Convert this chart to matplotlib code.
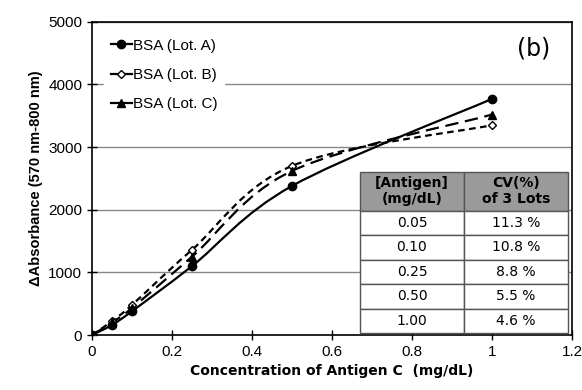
import matplotlib.pyplot as plt
from matplotlib.path import Path
from matplotlib.patches import PathPatch
from matplotlib.lines import Line2D
import numpy as np

plt.rcParams['font.family'] = ['Liberation Sans', 'DejaVu Sans']

conc = [0, 0.05, 0.10, 0.25, 0.50, 1.00]
lot_a = [0, 160, 380, 1100, 2380, 3770]
lot_b = [0, 220, 480, 1360, 2700, 3350]
lot_c = [0, 200, 430, 1250, 2620, 3520]

table_conc = ['0.05', '0.10', '0.25', '0.50', '1.00']
table_cv = ['11.3 %', '10.8 %', '8.8 %', '5.5 %', '4.6 %']


def smooth_path(x, y):
    # excel-like smoothed line, bezier segments through the points
    p = np.column_stack([x, y]).astype(float)
    n = len(p)
    verts = [p[0]]
    codes = [Path.MOVETO]
    for i in range(n - 1):
        p0 = p[i - 1] if i > 0 else p[i]
        p3 = p[i + 2] if i + 2 < n else p[i + 1]
        c1 = p[i] + (p[i + 1] - p0) / 6
        c2 = p[i + 1] - (p3 - p[i]) / 6
        verts += [c1, c2, p[i + 1]]
        codes += [Path.CURVE4] * 3
    return Path(verts, codes)


fig = plt.figure(figsize=(5.82, 3.9), dpi=100)
ax = fig.add_axes([0.158, 0.141, 0.825, 0.803])

series = [
    (lot_a, 'BSA (Lot. A)', 'o', 'black', '-', 6),
    (lot_b, 'BSA (Lot. B)', 'D', 'white', (0, (3, 2)), 4),
    (lot_c, 'BSA (Lot. C)', '^', 'black', (0, (6, 3)), 6),
]
handles = []
for vals, lab, mk, fc, ls, ms in series:
    ax.add_patch(PathPatch(smooth_path(conc, vals), fill=False, lw=1.6,
                           ls=ls, ec='black', zorder=3))
    ax.plot(conc, vals, ls='none', marker=mk, ms=ms, mfc=fc, mec='black',
            mew=1, zorder=4)
    handles.append(Line2D([], [], color='black', lw=1.6, marker=mk, ms=ms,
                          mfc=fc, mec='black'))

ax.set_xlim(0, 1.2)
ax.set_ylim(0, 5000)
ax.set_xticks([0, 0.2, 0.4, 0.6, 0.8, 1.0, 1.2])
ax.set_xticklabels(['0', '0.2', '0.4', '0.6', '0.8', '1', '1.2'])
ax.set_yticks(range(0, 5001, 1000))
ax.tick_params(direction='inout', length=7, width=1, labelsize=11)
ax.yaxis.grid(True, color='#888888', lw=1)
ax.set_axisbelow(True)
for s in ax.spines.values():
    s.set_linewidth(1.2)

ax.set_xlabel('Concentration of Antigen C  (mg/dL)', fontsize=10,
              fontweight='bold', family=['DejaVu Sans'])
ax.set_ylabel('ΔAbsorbance (570 nm-800 nm)', fontsize=10.5, fontweight='bold')

leg = ax.legend(handles, [s[1] for s in series], loc='upper left',
                bbox_to_anchor=(0.01, 0.99), frameon=True, fancybox=False,
                edgecolor='white', framealpha=1, fontsize=11,
                handlelength=1.4, handletextpad=0.1, labelspacing=1.0)

ax.text(0.955, 0.915, '(b)', transform=ax.transAxes, fontsize=17,
        ha='right', va='center', family=['DejaVu Sans'])

cells = [[c, v] for c, v in zip(table_conc, table_cv)]
tbl = ax.table(cellText=cells,
               colLabels=['[Antigen]\n(mg/dL)', 'CV(%)\nof 3 Lots'],
               cellLoc='center', bbox=[0.558, 0.006, 0.434, 0.515], zorder=5)
tbl.auto_set_font_size(False)
for (r, c), cell in tbl.get_celld().items():
    cell.set_edgecolor('#555555')
    cell.set_linewidth(1)
    cell.get_text().set_fontsize(10)
    cell.get_text().set_family(['DejaVu Sans'])
    if r == 0:
        cell.set_facecolor('#9a9a9a')
        cell.get_text().set_fontweight('bold')
        cell.set_height(0.24)
    else:
        cell.set_facecolor('white')
        cell.set_height(0.152)

fig.savefig('out.png', dpi=100)
